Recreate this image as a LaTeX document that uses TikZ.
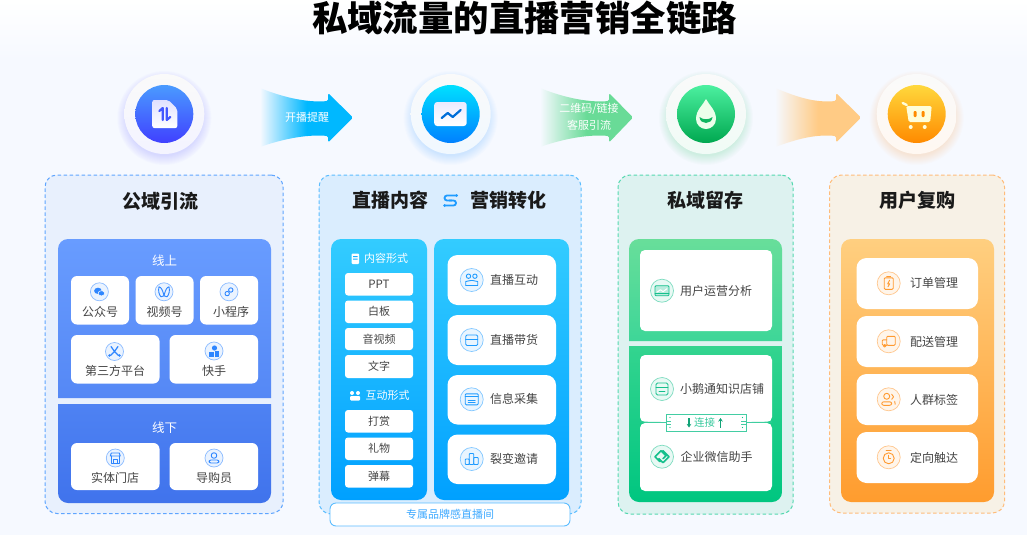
\documentclass[tikz,border=0pt]{standalone}
\usepackage{fontspec}
\setmainfont{Noto Sans CJK SC}
\usetikzlibrary{arrows.meta}
\definecolor{bgc}{HTML}{F6F9FF}
\definecolor{txt}{HTML}{444444}
\definecolor{head}{HTML}{1A1A1A}
\definecolor{pa}{HTML}{E8F0FD}
\definecolor{pb}{HTML}{DAEDFE}
\definecolor{pc}{HTML}{DDF2F0}
\definecolor{pd}{HTML}{F7F1E6}
\definecolor{da}{HTML}{5FA5FF}
\definecolor{db}{HTML}{5CBDFF}
\definecolor{dc}{HTML}{55D8B0}
\definecolor{dd}{HTML}{FFBC7A}
\definecolor{ia}{HTML}{2E86FF}
\definecolor{ib}{HTML}{1E9BFF}
\definecolor{ic}{HTML}{14C08C}
\definecolor{id}{HTML}{FF9A30}
\definecolor{ba}{HTML}{4A9BFF}\definecolor{bb}{HTML}{4040FF}
\definecolor{ca}{HTML}{00E0FF}\definecolor{cb}{HTML}{0080FF}
\definecolor{ga}{HTML}{4CF0A0}\definecolor{gb}{HTML}{00A850}
\definecolor{oa}{HTML}{FFD83C}\definecolor{ob}{HTML}{FF8A00}
\definecolor{ha}{HTML}{5A5AFF}\definecolor{hb}{HTML}{2A9BFF}
\definecolor{hc}{HTML}{2CC47A}\definecolor{hd}{HTML}{FF9A3C}
\definecolor{fa}{HTML}{00B8FF}\definecolor{fb}{HTML}{69DB97}\definecolor{fc}{HTML}{FFCB85}
\definecolor{ua}{HTML}{689CFF}\definecolor{ub}{HTML}{5588F5}
\definecolor{ub2}{HTML}{4E82F3}\definecolor{uc}{HTML}{4073EC}
\definecolor{va}{HTML}{33CCFF}\definecolor{vb}{HTML}{00A0FF}
\definecolor{wa}{HTML}{68DE9A}\definecolor{wb}{HTML}{3ED698}
\definecolor{wc}{HTML}{33D48F}\definecolor{wd}{HTML}{00C680}
\definecolor{xa}{HTML}{FFCF80}\definecolor{xb}{HTML}{FF9C2E}
\tikzset{
 panel/.style={rounded corners=12pt,dash pattern=on 3.5pt off 2.5pt,line width=1pt},
 whitecard/.style={fill=white,rounded corners=#1},
 whitecard/.default=6pt,
 lab/.style={font=\fontsize{12}{14}\selectfont,text=txt,inner sep=0pt},
 wlab/.style={font=\fontsize{11}{13}\selectfont,text=white,inner sep=0pt},
 heading/.style={font=\fontsize{19}{22}\selectfont\bfseries,text=head,inner sep=0pt},
}
\newcommand\bx[7]{%
 \pgfmathsetmacro\myw{#4-#2}\pgfmathsetmacro\myh{#5-#3}%
 \pgfmathsetmacro\mycx{(#2+#4)/2}\pgfmathsetmacro\mycy{(#3+#5)/2}%
 \node[#6,minimum width=\myw pt,minimum height=\myh pt,inner sep=0pt,outer sep=0pt] (#1) at (\mycx,\mycy) {#7};}
\newcommand\ico[5]{%
 \fill[#4!10!white] (#1,#2) circle (#3);
 \draw[#4!55!white,line width=.7pt] (#1,#2) circle (#3);
 \begin{scope}[shift={(#1,#2)},line width=.9pt,draw=#4,fill=#4,line cap=round,line join=round]#5\end{scope}}
\newcommand\badge[6]{%
 \foreach \hr in {47,46,45,44,43,42,41,40,39,38}{\fill[#3,opacity=.018] (#1,#2+4) circle (\hr);}
 \shade[top color=white!98!black,bottom color=#3!7!white] (#1,#2) circle (40);
 \shade[top color=#4,bottom color=#5] (#1,#2) circle (29);
 \begin{scope}[shift={(#1,#2)},line cap=round,line join=round]#6\end{scope}}
\newcommand\flow[5]{%
 \shade[left color=bgc,right color=#4,middle color=#4,rounded corners=1.5pt]
 (#1,88) .. controls (#1+20,96) and (#2-23,103) .. (#2,101) -- (#2,93) -- (#3,117.5) -- (#2,142.5)
 -- (#2,136) .. controls (#2-23,134) and (#1+20,140) .. (#1,147) -- cycle;
 \coordinate (#5) at (#2,117.5);}
\newcommand\blocktop[6]{\shade[top color=#5,bottom color=#6] (#1,#4) {[rounded corners=10pt] -- (#1,#3) -- (#2,#3)} -- (#2,#4) -- cycle;}
\newcommand\blockbot[6]{\shade[top color=#5,bottom color=#6] (#1,#3) {[rounded corners=10pt] -- (#1,#4) -- (#2,#4)} -- (#2,#3) -- cycle;}
\begin{document}
\begin{tikzpicture}[x=1pt,y=-1pt]
\useasboundingbox (0,0) rectangle (1027,535);
\fill[bgc] (0,0) rectangle (1027,535);
\shade[top color=white,bottom color=bgc] (0,0) rectangle (1027,60);
\node[inner sep=0pt,text=black,font=\fontsize{35.4}{40}\selectfont\bfseries] (title) at (524.5,18) {私域流量的直播营销全链路};

% ---------- badges
\badge{164.3}{114}{ha}{ba}{bb}{
 \shade[top color=blue!12!white,bottom color=white,rounded corners=2pt] (-12,-14) -- (4,-14) -- (13,-5) -- (13,14) -- (-12,14) -- cycle;
 \draw[line width=2.2pt,draw=bb!75!ba] (-1.5,6) -- (-1.5,-6) -- (-5,-3);
 \draw[line width=2.2pt,draw=bb!75!ba] (2.5,-6) -- (2.5,6) -- (6,3);
}
\badge{450.7}{114}{hb}{ca}{cb}{
 \shade[top color=blue!8!white,bottom color=white,rounded corners=3pt] (-16.5,-12) rectangle (16,12);
 \draw[line width=2.2pt,draw=cb!85!black] (-9,4) -- (-3,-1) -- (2,3) -- (10,-4);
}
\badge{706}{114}{hc}{ga}{gb}{
 \fill[green!8!white] (0,-15) .. controls (3,-9) and (10,-4) .. (10,5) .. controls (10,11) and (5,15) .. (0,15) .. controls (-5,15) and (-10,11) .. (-10,5) .. controls (-10,-4) and (-3,-9) .. (0,-15) -- cycle;
 \fill[gb!80!ga] (-6.5,3) .. controls (-3,6) and (3,6) .. (6.5,3) .. controls (6,11) and (-6,11) .. (-6.5,3) -- cycle;
}
\badge{916.7}{114}{hd}{oa}{ob}{
 \draw[line width=2.4pt,draw=yellow!15!white] (-14,-11) -- (-10,-9);
 \fill[yellow!15!white,rounded corners=1.5pt] (-10.5,-8) -- (15,-8) -- (13.5,8) -- (-8,8) -- cycle;
 \fill[yellow!15!white] (-6,13) circle (2) (8,13) circle (2);
 \fill[ob,rounded corners=1pt] (-3,-3) rectangle (0,3);
 \fill[ob,rounded corners=1pt] (5,-3) rectangle (8,3);
}

% ---------- flow arrows
\flow{260}{328}{353}{fa}{fa1}
\flow{540}{609}{633}{fb}{fa2}
\flow{775}{836}{861}{fc}{fa3}
\node[wlab] (fl1) at (307,117) {开播提醒};
\node[wlab] (fl2a) at (589,109) {二维码/链接};
\node[wlab] (fl2b) at (589,125.5) {客服引流};

% ---------- panels
\bx{pa1}{45}{175}{283}{513.5}{draw=da,fill=pa,panel}{}
\bx{pa2}{319}{175}{581}{514}{draw=db,fill=pb,panel}{}
\bx{pa3}{618}{175}{793}{514}{draw=dc,fill=pc,panel}{}
\bx{pa4}{829.5}{175}{1004.5}{513}{draw=dd,fill=pd,panel}{}
\node[heading] (h1) at (160,201) {公域引流};
\node[heading] (h2a) at (390,200) {直播内容};
\node[heading] (h2b) at (508.5,200) {营销转化};
\node[heading] (h3) at (705,200) {私域留存};
\node[heading] (h4) at (917,200) {用户复购};
\draw[ib,line width=1.8pt,rounded corners=2.5pt] (456.5,195.5) -- (444.5,195.5) -- (444.5,200.5) -- (452,200.5);
\draw[ib,line width=1.8pt,rounded corners=2.5pt] (444.5,205.5) -- (456,205.5) -- (456,200.5) -- (449,200.5);
\fill[ib] (456.5,195.5) circle (1.5) (444.5,205.5) circle (1.5);

% ---------- panel 1
\blocktop{58}{271}{239}{398}{ua}{ub}
\blockbot{58}{271}{404}{503}{ub2}{uc}
\node[wlab,font=\fontsize{12.5}{14}\selectfont] (on) at (164.5,261) {线上};
\node[wlab,font=\fontsize{12.5}{14}\selectfont] (off) at (164.5,428) {线下};
\bx{c11}{71}{276}{129}{324.5}{whitecard}{}
\bx{c12}{135.5}{276}{193.5}{324.5}{whitecard}{}
\bx{c13}{200}{276}{258}{324.5}{whitecard}{}
\bx{c14}{71}{335}{159.5}{383.5}{whitecard}{}
\bx{c15}{169.5}{335}{258}{383.5}{whitecard}{}
\bx{c16}{71}{443}{159.5}{490}{whitecard}{}
\bx{c17}{169.5}{443}{258}{490}{whitecard}{}
\node[lab] (t11) at (100,312) {公众号};
\node[lab] (t12) at (164.5,312) {视频号};
\node[lab] (t13) at (231,312) {小程序};
\node[lab] (t14) at (115,370.5) {第三方平台};
\node[lab] (t15) at (214,370.5) {快手};
\node[lab] (t16) at (115,477.5) {实体门店};
\node[lab] (t17) at (214,477.5) {导购员};
\ico{99.4}{291.8}{9}{ia}{
 \fill (-1.5,-1) ellipse (3.8 and 3.1);
 \filldraw[draw=white,line width=.5pt] (2,1.5) ellipse (3.3 and 2.6);
}
\ico{164}{291.8}{9}{ia}{
 \draw (0,4) .. controls (-1,-1) and (-3,-5) .. (-5,-5) .. controls (-6,-1) and (-5,3) .. (-3,5) .. controls (-2,5) and (-1,5) .. (0,4);
 \draw (0,4) .. controls (1,-1) and (3,-5) .. (5,-5) .. controls (6,-1) and (5,3) .. (3,5) .. controls (2,5) and (1,5) .. (0,4);
}
\ico{229}{291.8}{9}{ia}{
 \draw (-1.8,1.8) circle (2.2);
 \draw (1.8,-1.8) circle (2.2);
}
\ico{114.5}{351.5}{9}{ia}{
 \draw[line width=1.2pt] (-3.5,-5) -- (0,0) -- (3.5,-5);
 \draw[line width=1.2pt] (0,0) -- (-4,4) (0,0) -- (4,4);
 \fill (-5,4) circle (1.4) (5,4) circle (1.4);
}
\ico{214}{351}{9}{ia}{
 \fill (.5,-3) circle (2.6);
 \fill (-5,1) rectangle (-.5,5.5);
 \fill (1,0) rectangle (5,5.5);
}
\ico{115.3}{458}{9}{ia}{
 \draw (-5,-2) -- (-4,-5) -- (4,-5) -- (5,-2) -- cycle;
 \draw (-4,-2) -- (-4,5) -- (4,5) -- (4,-2);
 \draw (-2,5) -- (-2,1) -- (2,1) -- (2,5);
}
\ico{214}{458}{9}{ia}{
 \draw (0,-2.5) circle (2.8);
 \draw[rounded corners=2pt] (-5,5) -- (-5,2) -- (5,2) -- (5,5) -- cycle;
}

% ---------- panel 2
\bx{b1}{331}{239}{427}{500}{top color=va,bottom color=vb,rounded corners=10pt}{}
\bx{b2}{434}{239}{569}{500}{top color=va,bottom color=vb,rounded corners=10pt}{}
\node[wlab] (s1) at (386,258.5) {内容形式};
\node[wlab] (s2) at (387.5,395.5) {互动形式};
\fill[white,rounded corners=1pt] (351.5,253.5) rectangle (359,264);
\fill[vb!60!va] (353,256) rectangle (357.5,257) (353,258.5) rectangle (357.5,259.5);
\fill[white] (352,393) circle (2) (358,393) circle (2);
\fill[white,rounded corners=1pt] (350,396) rectangle (360,400.5);
\bx{m1}{345}{273}{413}{295.5}{whitecard=3pt,lab,font=\fontsize{11.5}{14}\selectfont}{PPT}
\bx{m2}{345}{300.5}{413}{323}{whitecard=3pt,lab,font=\fontsize{11}{14}\selectfont}{白板}
\bx{m3}{345}{328}{413}{350}{whitecard=3pt,lab,font=\fontsize{11}{14}\selectfont}{音视频}
\bx{m4}{345}{355}{413}{378}{whitecard=3pt,lab,font=\fontsize{11}{14}\selectfont}{文字}
\bx{m5}{345}{410}{413}{432.5}{whitecard=3pt,lab,font=\fontsize{11}{14}\selectfont}{打赏}
\bx{m6}{345}{437.5}{413}{460}{whitecard=3pt,lab,font=\fontsize{11}{14}\selectfont}{礼物}
\bx{m7}{345}{465}{413}{487.5}{whitecard=3pt,lab,font=\fontsize{11}{14}\selectfont}{弹幕}
\bx{n1}{447.5}{255}{556}{305}{whitecard=10pt}{}
\bx{n2}{447.5}{315}{556}{365}{whitecard=10pt}{}
\bx{n3}{447.5}{375}{556}{424.5}{whitecard=10pt}{}
\bx{n4}{447.5}{434.5}{556}{484}{whitecard=10pt}{}
\node[lab,anchor=west] (tn1) at (490,280) {直播互动};
\node[lab,anchor=west] (tn2) at (490,340) {直播带货};
\node[lab,anchor=west] (tn3) at (490,399) {信息采集};
\node[lab,anchor=west] (tn4) at (490,459) {裂变邀请};
\ico{471.7}{280}{11.5}{ib}{
 \draw (-3.2,-3.8) circle (2.2) (3.2,-3.8) circle (2.2);
 \draw (-6,5) -- (-6,1.5) -- (-1,.5) -- (1,.5) -- (6,1.5) -- (6,5);
 \draw (-6,5) -- (6,5);
}
\ico{471.7}{340}{11.5}{ib}{
 \draw[rounded corners=1.2pt] (-6,-5) rectangle (6,5.5);
 \draw (-6,-1) -- (6,-1);
}
\ico{471.7}{399.3}{11.5}{ib}{
 \draw[rounded corners=1pt] (-6.5,-5.5) rectangle (6.5,5.5);
 \draw (-6.5,-2.5) -- (6.5,-2.5);
 \draw (-3.5,1) -- (3.5,1) (-3.5,3.2) -- (3.5,3.2);
}
\ico{471.7}{459}{11.5}{ib}{
 \draw[rounded corners=.8pt] (-6.5,0) rectangle (-2.5,5.5);
 \draw[rounded corners=.8pt] (-2.5,-5.5) rectangle (2,5.5);
 \draw[rounded corners=.8pt] (2,-1.5) rectangle (6.5,5.5);
}
\bx{pill}{330}{503}{570}{526}{draw=db,fill=white,line width=.9pt,rounded corners=6pt,font=\fontsize{11}{13}\selectfont,text=ib!85!white}{专属品牌感直播间}

% ---------- panel 3
\blocktop{629}{782}{239}{341}{wa}{wb}
\blockbot{629}{782}{346}{502}{wc}{wd}
\bx{g1}{640}{250}{772}{331}{whitecard=5pt}{}
\bx{g2}{640}{355}{772}{422}{whitecard=5pt}{}
\bx{g3}{640}{423}{772}{491}{whitecard=5pt}{}
\node[lab,anchor=west] (tg1) at (680,290.5) {用户运营分析};
\node[lab,anchor=west] (tg2) at (680,389) {小鹅通知识店铺};
\node[lab,anchor=west] (tg3) at (680.5,456.5) {企业微信助手};
\ico{662}{290.7}{11.5}{ic}{
 \draw[rounded corners=1pt,fill=ic!30!white] (-7,-5) rectangle (7,5);
 \draw[white,line width=1pt] (-5,1.5) -- (-1.5,-1) -- (1,1) -- (5,-2);
 \draw (-7,2.5) -- (7,2.5);
}
\ico{662}{389}{11.5}{ic}{
 \draw[rounded corners=1.5pt] (-6,-6) rectangle (6,6);
 \draw (-6,-2) -- (6,-2);
 \draw (-3,2) -- (3,2);
}
\ico{662}{456.7}{11.5}{ic}{
 \draw[line width=1.5pt] (-1,-6) -- (-7,0) -- (-2,5) (1,-6) -- (7,0) -- (1,6) -- (-3,2) (-1,-6) -- (4,-1) -- (1,2);
}
\coordinate (lkl) at (640,422);
\coordinate (lkr) at (772,422);
\bx{lk}{666}{414}{746}{431}{draw=ic!80!white,fill=white,line width=.8pt}{}
\draw[ic!80!white,line width=.8pt] (lkl) -- (lk.west) (lk.east) -- (lkr);
\node[inner sep=0pt,font=\fontsize{10.5}{12}\selectfont,text=ic!85!white] (lkt) at (704.5,422.5) {连接};
\draw[-{Stealth[length=3.5pt,width=4.5pt]},ic!85!black,line width=1.1pt] (689,418) -- (689,427.5);
\draw[-{Stealth[length=3.5pt,width=4.5pt]},ic!85!black,line width=1.1pt] (720.5,427.5) -- (720.5,418);
\fill[ic] (670,417.5) circle (.6) (670,427.5) circle (.6) (742.5,417.5) circle (.6) (742.5,427.5) circle (.6);
\draw[ic!80!white,line width=.5pt] (666,421) -- (671,421) (666,424) -- (671,424) (741,421) -- (746,421) (741,424) -- (746,424);

% ---------- panel 4
\bx{o0}{841}{239}{994}{502}{top color=xa,bottom color=xb,rounded corners=10pt}{}
\bx{o1}{856.5}{258}{978}{309}{whitecard=10pt}{}
\bx{o2}{856.5}{316}{978}{367}{whitecard=10pt}{}
\bx{o3}{856.5}{374}{978}{425}{whitecard=10pt}{}
\bx{o4}{856.5}{432}{978}{483}{whitecard=10pt}{}
\node[lab,anchor=west] (to1) at (910,283) {订单管理};
\node[lab,anchor=west] (to2) at (910,341.5) {配送管理};
\node[lab,anchor=west] (to3) at (910,399.5) {人群标签};
\node[lab,anchor=west] (to4) at (910,457.5) {定向触达};
\ico{888.7}{283.3}{11.5}{id}{
 \draw[rounded corners=1pt] (-4.5,-5.5) rectangle (4.5,6);
 \draw (-2,-7) -- (2,-7);
 \draw (.8,-3) -- (-1,.5) -- (1,.5) -- (-.8,3.5);
}
\ico{888.7}{341.3}{11.5}{id}{
 \draw[rounded corners=1pt] (-2,-5) rectangle (6.5,4);
 \draw[rounded corners=1pt] (-2,-1.5) -- (-6.5,-1.5) -- (-6.5,4) -- (-2,4);
 \draw (-4,4.5) circle (1.3);
}
\ico{888.7}{399.3}{11.5}{id}{
 \draw (-2,-3) circle (3);
 \draw[rounded corners=2pt] (-7,6) -- (-7,2.5) -- (3,2.5) -- (3,6) -- cycle;
 \draw (3,-5) .. controls (5.5,-4) and (5.5,-1) .. (3,0);
 \draw (6,2) -- (6.5,5);
}
\ico{888.7}{457.3}{11.5}{id}{
 \draw (0,1) circle (5.5);
 \draw (-2.5,-6.5) -- (2.5,-6.5);
 \draw (0,-2) -- (0,1) -- (2,1);
}
\end{tikzpicture}
\end{document}
